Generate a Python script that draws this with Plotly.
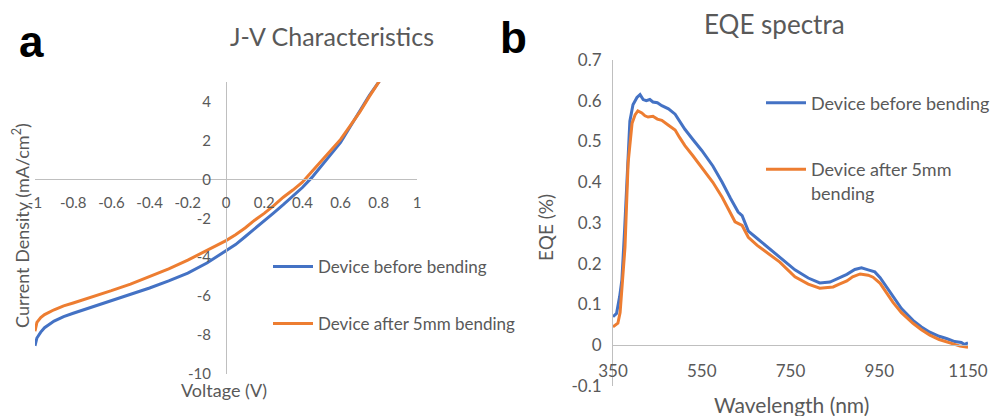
import plotly.graph_objects as go

# ---------------- data ----------------
jv_voltage = [-1.00, -0.99, -0.97, -0.95, -0.90, -0.85, -0.80, -0.70, -0.60, -0.50, -0.40, -0.30,
              -0.20, -0.10, 0.00, 0.05, 0.10, 0.15, 0.20, 0.25, 0.30, 0.35, 0.40, 0.45, 0.50,
              0.55, 0.60, 0.65, 0.70, 0.75, 0.80, 0.82]
jv_before = [-8.55, -8.15, -7.85, -7.62, -7.28, -7.05, -6.88, -6.55, -6.25, -5.93, -5.58, -5.22,
             -4.82, -4.30, -3.65, -3.35, -2.95, -2.55, -2.15, -1.72, -1.30, -0.85, -0.42, 0.10, 0.70,
             1.30, 1.90, 2.70, 3.50, 4.30, 5.00, 5.30]
jv_after = [-7.80, -7.35, -7.10, -6.95, -6.70, -6.50, -6.35, -6.05, -5.72, -5.38, -5.00, -4.60,
            -4.15, -3.65, -3.15, -2.85, -2.50, -2.10, -1.75, -1.35, -0.92, -0.55, -0.15, 0.40, 0.95,
            1.50, 2.05, 2.75, 3.45, 4.25, 5.00, 5.30]

eqe_wl_before = [350, 358, 365, 370, 376, 381, 388, 395, 404, 411, 418, 425, 433, 440, 450, 460, 475,
                 490, 500, 512, 530, 550, 575, 596, 615, 632, 641, 648, 655, 675, 699, 726, 760, 790,
                 816, 839, 860, 877, 895, 910, 925, 940, 952, 965, 981, 1000, 1026, 1045, 1064, 1085,
                 1103, 1120, 1135, 1142, 1150]
eqe_before = [0.070, 0.078, 0.120, 0.160, 0.280, 0.405, 0.550, 0.590, 0.608, 0.615, 0.603, 0.600,
              0.603, 0.597, 0.595, 0.588, 0.580, 0.567, 0.550, 0.530, 0.505, 0.478, 0.440, 0.400,
              0.360, 0.327, 0.318, 0.300, 0.280, 0.262, 0.240, 0.216, 0.185, 0.165, 0.153, 0.155,
              0.165, 0.174, 0.186, 0.190, 0.185, 0.180, 0.166, 0.145, 0.118, 0.090, 0.061, 0.045,
              0.032, 0.022, 0.016, 0.009, 0.007, 0.002, 0.006]
eqe_wl_after = [350, 361, 366, 371, 377, 384, 393, 400, 406, 415, 422, 429, 440, 450, 460, 475, 490,
                500, 512, 530, 550, 575, 596, 612, 625, 641, 648, 655, 675, 699, 726, 760, 790, 816,
                846, 860, 877, 890, 907, 925, 936, 952, 965, 981, 1000, 1026, 1045, 1064, 1085, 1103,
                1120, 1132, 1150]
eqe_after = [0.045, 0.054, 0.080, 0.150, 0.240, 0.447, 0.545, 0.566, 0.575, 0.570, 0.563, 0.560,
             0.562, 0.555, 0.552, 0.540, 0.528, 0.510, 0.490, 0.465, 0.437, 0.400, 0.363, 0.330,
             0.303, 0.294, 0.280, 0.265, 0.245, 0.226, 0.204, 0.168, 0.150, 0.140, 0.143, 0.150,
             0.158, 0.168, 0.175, 0.172, 0.167, 0.152, 0.132, 0.105, 0.080, 0.054, 0.038, 0.025,
             0.014, 0.007, 0.002, -0.002, -0.005]

jv_xticks = [-1, -0.8, -0.6, -0.4, -0.2, 0, 0.2, 0.4, 0.6, 0.8, 1]
jv_xticktext = ["-1", "-0.8", "-0.6", "-0.4", "-0.2", "0", "0.2", "0.4", "0.6", "0.8", "1"]
jv_yticks = [-10, -8, -6, -4, -2, 0, 2, 4]
jv_yticktext = ["-10", "-8", "-6", "-4", "-2", "0", "2", "4"]
eqe_xticks = [350, 550, 750, 950, 1150]
eqe_xticktext = ["350", "550", "750", "950", "1150"]
eqe_yticks = [-0.1, 0, 0.1, 0.2, 0.3, 0.4, 0.5, 0.6, 0.7]
eqe_yticktext = ["-0.1", "0", "0.1", "0.2", "0.3", "0.4", "0.5", "0.6", "0.7"]

series_names_jv = ["Device before bending", "Device after 5mm bending"]
series_names_eqe = ["Device before bending", "Device after 5mm<br>bending"]

# ---------------- layout geometry ----------------
W, H = 997, 416
BLUE = "#4472C4"
ORANGE = "#ED7D31"
AXC = "#BFBFBF"
TXT = "#595959"
FONT = "Lato"

def px_x(p):
    return p / W

def px_y(p):
    return 1 - p / H

jv_xr = [-1, 1]
jv_yr = [-10, 5]
eqe_xr = [350, 1150]
eqe_yr = [-0.1, 0.7]

x1_dom = [px_x(35), px_x(417)]
y1_dom = [px_y(374), px_y(82)]
x2_dom = [px_x(613), px_x(968)]
y2_dom = [px_y(386), px_y(60)]

# crossing positions (paper coordinates) computed from ranges
y1_zero = y1_dom[0] + (0 - jv_yr[0]) / (jv_yr[1] - jv_yr[0]) * (y1_dom[1] - y1_dom[0])
x1_zero = x1_dom[0] + (0 - jv_xr[0]) / (jv_xr[1] - jv_xr[0]) * (x1_dom[1] - x1_dom[0])
y2_zero = y2_dom[0] + (0 - eqe_yr[0]) / (eqe_yr[1] - eqe_yr[0]) * (y2_dom[1] - y2_dom[0])

fig = go.Figure()

fig.add_trace(go.Scatter(x=jv_voltage, y=jv_before, mode="lines", name=series_names_jv[0],
                         line=dict(color=BLUE, width=3), xaxis="x", yaxis="y", legend="legend"))
fig.add_trace(go.Scatter(x=jv_voltage, y=jv_after, mode="lines", name=series_names_jv[1],
                         line=dict(color=ORANGE, width=3), xaxis="x", yaxis="y", legend="legend2"))
fig.add_trace(go.Scatter(x=eqe_wl_before, y=eqe_before, mode="lines", name=series_names_eqe[0],
                         line=dict(color=BLUE, width=3), xaxis="x2", yaxis="y2", legend="legend3"))
fig.add_trace(go.Scatter(x=eqe_wl_after, y=eqe_after, mode="lines", name=series_names_eqe[1],
                         line=dict(color=ORANGE, width=3), xaxis="x2", yaxis="y2", legend="legend4"))

tickfont_l = dict(family=FONT, size=15, color=TXT)
tickfont_r = dict(family=FONT, size=17, color=TXT)

axis_common = dict(showgrid=False, zeroline=False, showline=True, linecolor=AXC, linewidth=1,
                   ticks="", tickmode="array", fixedrange=True, automargin=False)

legend_common = dict(bgcolor="rgba(0,0,0,0)", borderwidth=0, xanchor="left", yanchor="middle",
                     itemwidth=40, valign="top")

fig.update_layout(
    width=W, height=H,
    margin=dict(l=0, r=0, t=0, b=0),
    paper_bgcolor="white", plot_bgcolor="white",
    font=dict(family=FONT, color=TXT),
    showlegend=True,
    xaxis=dict(axis_common, domain=x1_dom, range=jv_xr, anchor="free", position=y1_zero,
               tickvals=jv_xticks, ticktext=jv_xticktext, tickfont=tickfont_l, ticklabelstandoff=10),
    yaxis=dict(axis_common, domain=y1_dom, range=jv_yr, anchor="free", position=x1_zero,
               tickvals=jv_yticks, ticktext=jv_yticktext, tickfont=tickfont_l, ticklabelstandoff=12),
    xaxis2=dict(axis_common, domain=x2_dom, range=eqe_xr, anchor="free", position=y2_zero,
                tickvals=eqe_xticks, ticktext=eqe_xticktext, tickfont=tickfont_r, ticklabelstandoff=10),
    yaxis2=dict(axis_common, domain=y2_dom, range=eqe_yr, anchor="x2",
                tickvals=eqe_yticks, ticktext=eqe_yticktext, tickfont=tickfont_r, ticklabelstandoff=7),
    legend=dict(legend_common, x=px_x(268), y=px_y(267), font=dict(family=FONT, size=17, color=TXT)),
    legend2=dict(legend_common, x=px_x(268), y=px_y(324), font=dict(family=FONT, size=17, color=TXT)),
    legend3=dict(legend_common, x=px_x(761), y=px_y(103), font=dict(family=FONT, size=18, color=TXT)),
    legend4=dict(legend_common, x=px_x(761), y=px_y(181), font=dict(family=FONT, size=18, color=TXT)),
)

annos = [
    dict(text="<b>a</b>", x=px_x(31), y=px_y(42), font=dict(family="Liberation Sans", size=44, color="black")),
    dict(text="<b>b</b>", x=px_x(513), y=px_y(37), font=dict(family="Liberation Sans", size=44, color="black")),
    dict(text="J-V Characteristics", x=px_x(332), y=px_y(36), font=dict(family=FONT, size=25, color=TXT)),
    dict(text="EQE spectra", x=px_x(774), y=px_y(24), font=dict(family=FONT, size=26, color=TXT)),
    dict(text="Voltage (V)", x=px_x(224), y=px_y(390), font=dict(family=FONT, size=18, color=TXT)),
    dict(text="Current Density (mA/cm<sup>2</sup>)", x=px_x(21), y=px_y(226), textangle=-90,
         font=dict(family=FONT, size=18, color=TXT)),
    dict(text="Wavelength (nm)", x=px_x(791), y=px_y(404), font=dict(family=FONT, size=21, color=TXT)),
    dict(text="EQE (%)", x=px_x(545), y=px_y(228), textangle=-90, font=dict(family=FONT, size=19, color=TXT)),
]
for a in annos:
    a.update(xref="paper", yref="paper", showarrow=False, xanchor="center", yanchor="middle")
fig.update_layout(annotations=annos)

fig.write_html("out.html")
